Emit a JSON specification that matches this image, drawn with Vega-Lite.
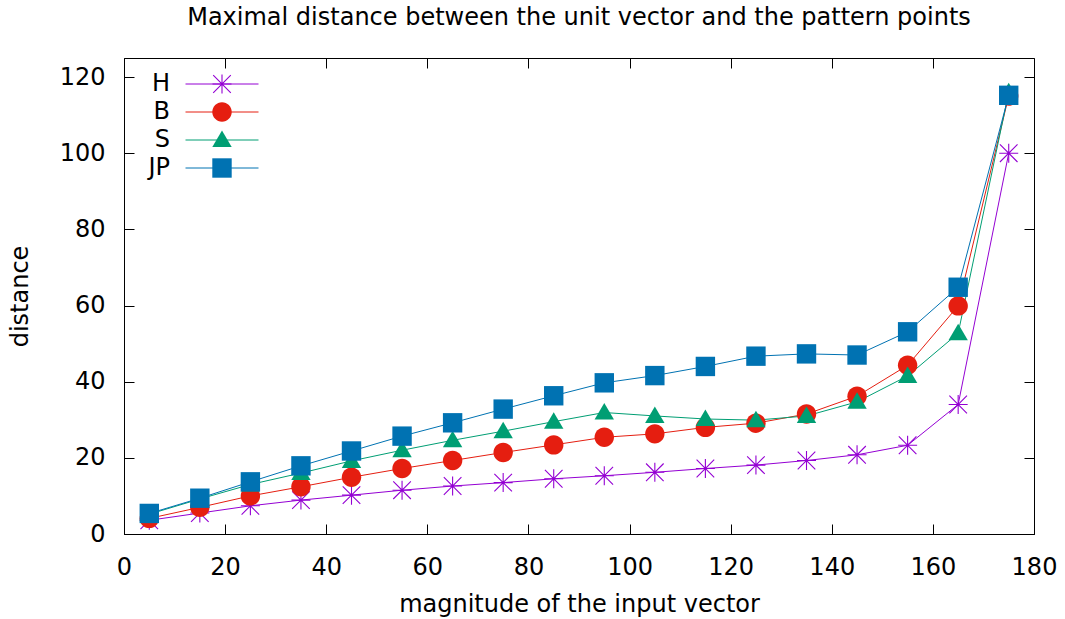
{
  "$schema": "https://vega.github.io/schema/vega-lite/v6.json",
  "width": 910,
  "height": 476,
  "autosize": {"type": "none"},
  "padding": {"left": 124, "top": 58, "right": 31, "bottom": 85},
  "background": "white",
  "config": {
    "font": "DejaVu Sans",
    "view": {"stroke": "black", "strokeWidth": 1},
    "axis": {"grid": false, "domainColor": "black", "tickColor": "black", "labelColor": "black", "titleColor": "black", "labelFont": "DejaVu Sans", "titleFont": "DejaVu Sans", "labelFontSize": 24, "titleFontSize": 24, "titleFontWeight": "normal"},
    "legend": {"orient": "none", "legendX": 86, "legendY": 14, "title": null, "symbolSize": 400, "symbolStrokeWidth": 1, "labelFontSize": 24, "labelFont": "DejaVu Sans", "labelColor": "black", "labelAlign": "right", "labelBaseline": "middle", "labelOffset": -64, "rowPadding": 4, "padding": 0}
  },
  "title": {"text": "Maximal distance between the unit vector and the pattern points", "font": "DejaVu Sans", "fontSize": 24, "fontWeight": "normal", "color": "black", "anchor": "middle", "frame": "group", "offset": 28},
  "data": {"values": [
    {"x": 5, "y": 3.6, "s": "H"}, {"x": 15, "y": 5.5, "s": "H"}, {"x": 25, "y": 7.4, "s": "H"}, {"x": 35, "y": 8.9, "s": "H"}, {"x": 45, "y": 10.2, "s": "H"}, {"x": 55, "y": 11.5, "s": "H"}, {"x": 65, "y": 12.6, "s": "H"}, {"x": 75, "y": 13.5, "s": "H"}, {"x": 85, "y": 14.5, "s": "H"}, {"x": 95, "y": 15.3, "s": "H"}, {"x": 105, "y": 16.2, "s": "H"}, {"x": 115, "y": 17.2, "s": "H"}, {"x": 125, "y": 18.1, "s": "H"}, {"x": 135, "y": 19.3, "s": "H"}, {"x": 145, "y": 20.8, "s": "H"}, {"x": 155, "y": 23.3, "s": "H"}, {"x": 165, "y": 34.0, "s": "H"}, {"x": 175, "y": 100.0, "s": "H"},
    {"x": 5, "y": 4.1, "s": "B"}, {"x": 15, "y": 7.0, "s": "B"}, {"x": 25, "y": 10.0, "s": "B"}, {"x": 35, "y": 12.4, "s": "B"}, {"x": 45, "y": 14.9, "s": "B"}, {"x": 55, "y": 17.2, "s": "B"}, {"x": 65, "y": 19.3, "s": "B"}, {"x": 75, "y": 21.4, "s": "B"}, {"x": 85, "y": 23.4, "s": "B"}, {"x": 95, "y": 25.4, "s": "B"}, {"x": 105, "y": 26.3, "s": "B"}, {"x": 115, "y": 28.0, "s": "B"}, {"x": 125, "y": 29.1, "s": "B"}, {"x": 135, "y": 31.5, "s": "B"}, {"x": 145, "y": 36.2, "s": "B"}, {"x": 155, "y": 44.3, "s": "B"}, {"x": 165, "y": 59.9, "s": "B"}, {"x": 175, "y": 115.0, "s": "B"},
    {"x": 5, "y": 5.2, "s": "S"}, {"x": 15, "y": 9.2, "s": "S"}, {"x": 25, "y": 13.0, "s": "S"}, {"x": 35, "y": 16.0, "s": "S"}, {"x": 45, "y": 19.2, "s": "S"}, {"x": 55, "y": 22.0, "s": "S"}, {"x": 65, "y": 24.6, "s": "S"}, {"x": 75, "y": 27.0, "s": "S"}, {"x": 85, "y": 29.5, "s": "S"}, {"x": 95, "y": 31.9, "s": "S"}, {"x": 105, "y": 31.0, "s": "S"}, {"x": 115, "y": 30.2, "s": "S"}, {"x": 125, "y": 29.9, "s": "S"}, {"x": 135, "y": 31.0, "s": "S"}, {"x": 145, "y": 34.7, "s": "S"}, {"x": 155, "y": 41.5, "s": "S"}, {"x": 165, "y": 52.7, "s": "S"}, {"x": 175, "y": 116.0, "s": "S"},
    {"x": 5, "y": 5.4, "s": "JP"}, {"x": 15, "y": 9.4, "s": "JP"}, {"x": 25, "y": 13.7, "s": "JP"}, {"x": 35, "y": 17.9, "s": "JP"}, {"x": 45, "y": 21.8, "s": "JP"}, {"x": 55, "y": 25.7, "s": "JP"}, {"x": 65, "y": 29.2, "s": "JP"}, {"x": 75, "y": 32.8, "s": "JP"}, {"x": 85, "y": 36.3, "s": "JP"}, {"x": 95, "y": 39.7, "s": "JP"}, {"x": 105, "y": 41.6, "s": "JP"}, {"x": 115, "y": 44.0, "s": "JP"}, {"x": 125, "y": 46.7, "s": "JP"}, {"x": 135, "y": 47.3, "s": "JP"}, {"x": 145, "y": 47.0, "s": "JP"}, {"x": 155, "y": 53.1, "s": "JP"}, {"x": 165, "y": 64.8, "s": "JP"}, {"x": 175, "y": 115.2, "s": "JP"}
  ]},
  "resolve": {"axis": {"x": "independent", "y": "independent"}},
  "layer": [
    {
      "mark": {"type": "line", "strokeWidth": 1},
      "encoding": {
        "x": {"field": "x", "type": "quantitative", "scale": {"domain": [0, 180], "nice": false, "zero": false},
              "axis": {"orient": "bottom", "values": [0, 20, 40, 60, 80, 100, 120, 140, 160, 180], "tickSize": -10, "labelPadding": 31, "title": "magnitude of the input vector", "titlePadding": 13, "labelFlush": false, "labelOverlap": false}},
        "y": {"field": "y", "type": "quantitative", "scale": {"domain": [0, 125], "nice": false, "zero": false},
              "axis": {"orient": "left", "values": [0, 20, 40, 60, 80, 100, 120], "tickSize": -10, "labelPadding": 29, "title": "distance", "titlePadding": 27, "labelFlush": false, "labelOverlap": false}},
        "stroke": {"field": "s", "type": "nominal", "sort": ["H", "B", "S", "JP"], "scale": {"range": ["#9400d3", "#e51e10", "#009e73", "#0072b2"]},
                   "legend": {"symbolType": "M-3.65,0L3.65,0", "symbolStrokeWidth": 1, "symbolFillColor": "transparent", "labelColor": "transparent"}},
        "detail": {"field": "s"}
      }
    },
    {
      "mark": {"type": "point", "filled": true, "opacity": 1, "strokeWidth": 0, "size": 400},
      "encoding": {
        "x": {"field": "x", "type": "quantitative", "scale": {"domain": [0, 180], "nice": false, "zero": false},
              "axis": {"orient": "top", "values": [0, 20, 40, 60, 80, 100, 120, 140, 160, 180], "tickSize": -10, "labels": false, "domain": false, "title": null}},
        "y": {"field": "y", "type": "quantitative", "scale": {"domain": [0, 125], "nice": false, "zero": false},
              "axis": {"orient": "right", "values": [0, 20, 40, 60, 80, 100, 120], "tickSize": -10, "labels": false, "domain": false, "title": null}},
        "color": {"field": "s", "type": "nominal", "scale": {"domain": ["H", "B", "S", "JP"], "range": ["#9400d3", "#e51e10", "#009e73", "#0072b2"]}},
        "shape": {"field": "s", "type": "nominal", "scale": {"domain": ["H", "B", "S", "JP"], "range": [
          "M-0.95,-0.055L0.95,-0.055L0.95,0.055L-0.95,0.055ZM-0.055,-0.95L0.055,-0.95L0.055,0.95L-0.055,0.95ZM-0.841,-0.919L0.919,0.841L0.841,0.919L-0.919,-0.841ZM-0.919,0.841L0.841,-0.919L0.919,-0.841L-0.841,0.919Z",
          "M-0.97,0A0.97,0.97,0,1,1,0.97,0A0.97,0.97,0,1,1,-0.97,0Z",
          "M0,-0.95L0.97,0.7L-0.97,0.7Z",
          "M-0.97,-0.97L0.97,-0.97L0.97,0.97L-0.97,0.97Z"]}}
      }
    }
  ]
}
